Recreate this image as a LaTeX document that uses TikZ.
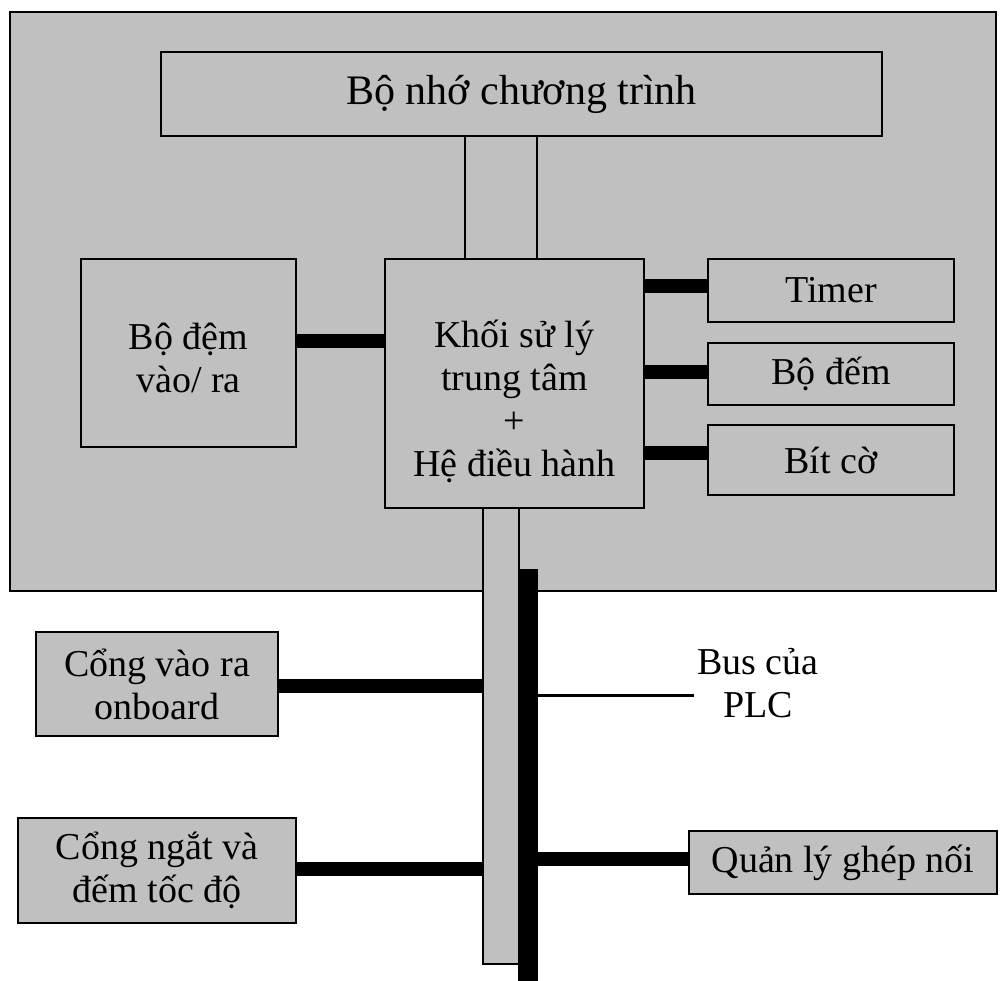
\documentclass[tikz,border=0pt]{standalone}
\usepackage{fontspec}
\setmainfont{Liberation Serif}
\definecolor{panel}{RGB}{192,192,192}
\begin{document}
\begin{tikzpicture}[x=1pt,y=-1pt,
  every node/.style={inner sep=0pt, outer sep=0pt},
  block/.style={draw, line width=1.8pt, fill=panel, align=center,
                font=\fontsize{38}{43}\selectfont},
  plain/.style={align=center, font=\fontsize{38}{43}\selectfont},
  heavy/.style={line width=14pt},
  wire/.style={line width=3pt}]
\useasboundingbox (0,0) rectangle (1000,981);

% PLC housing
\node[block, minimum width=986pt, minimum height=579pt] (plc) at (503,301.5) {};

% program memory and its link to the CPU
\node[block, minimum width=721pt, minimum height=84pt,
      font=\fontsize{42}{48}\selectfont] (mem) at (521.5,94) {Bộ nhớ chương trình};
\node[block, minimum width=72pt, minimum height=123pt] (memlink) at (501,197.5) {};

% system bus
\node[block, minimum width=36pt, minimum height=456pt] (bus) at (501,736) {};
\node[fill=black, minimum width=20pt, minimum height=412pt] (busbar) at (528,775) {};

% CPU
\node[block, minimum width=259pt, minimum height=249pt] (cpu) at (514.5,383.5) {};
\node[plain] (cputext) at (514.5,401) {Khối sử lý\\trung tâm\\+\\Hệ điều hành};

% I/O buffer
\node[block, minimum width=215pt, minimum height=188pt] (buf) at (188.5,353) {};
\node[plain] (buftext) at (188.5,358) {Bộ đệm\\vào/ ra};

% timers, counters, flags
\node[block, minimum width=246pt, minimum height=63pt] (timer) at (831,290.5) {Timer};
\node[block, minimum width=246pt, minimum height=62pt] (counter) at (831,374) {Bộ đếm};
\node[block, minimum width=246pt, minimum height=70pt] (flags) at (831,460) {Bít cờ};

% peripheral blocks on the bus
\node[block, minimum width=242pt, minimum height=104pt] (onboard) at (157,684) {Cổng vào ra\\onboard};
\node[block, minimum width=278pt, minimum height=105pt] (intr) at (157,870.5) {Cổng ngắt và\\đếm tốc độ};
\node[block, minimum width=308pt, minimum height=63pt] (iface) at (843,862.5) {Quản lý ghép nối};

% bus label
\node[plain] (buslabel) at (758,683) {Bus của\\PLC};

% heavy links
\draw[heavy] (buf.east |- 0,341) -- (cpu.west |- 0,341);
\draw[heavy] (cpu.east |- 0,286) -- (timer.west |- 0,286);
\draw[heavy] (cpu.east |- 0,372) -- (counter.west |- 0,372);
\draw[heavy] (cpu.east |- 0,453) -- (flags.west |- 0,453);
\draw[heavy] (onboard.east |- 0,686) -- (bus.west |- 0,686);
\draw[heavy] (intr.east |- 0,869) -- (bus.west |- 0,869);
\draw[heavy] (busbar.east |- 0,859) -- (iface.west |- 0,859);

% label leader
\draw[wire] (busbar.east |- 0,695) -- ([xshift=-3pt]buslabel.west |- 0,695);
\end{tikzpicture}
\end{document}
